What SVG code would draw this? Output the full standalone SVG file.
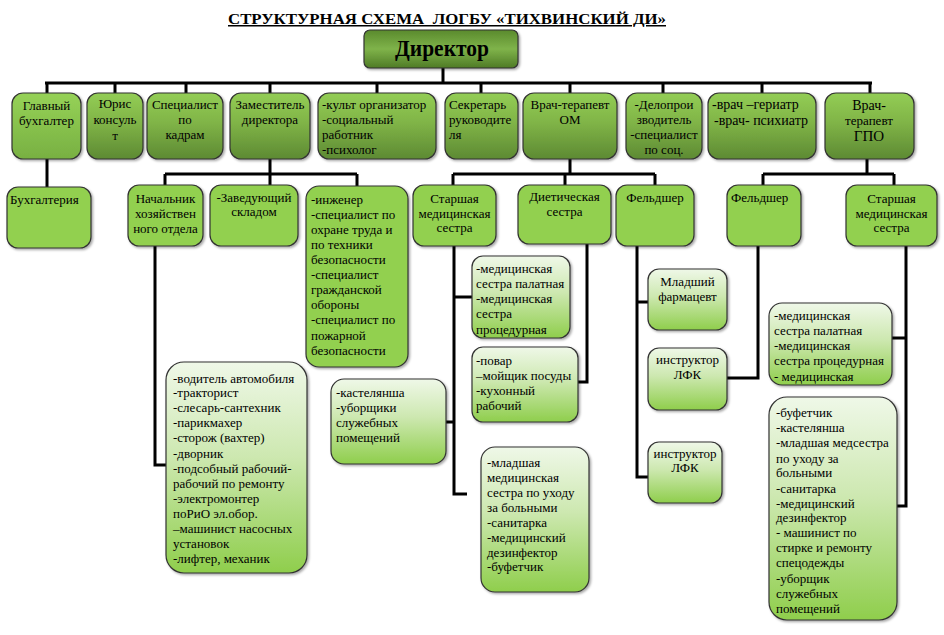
<svg xmlns="http://www.w3.org/2000/svg" width="944" height="635" viewBox="0 0 944 635">
<defs>
<linearGradient id="gTop" x1="0" y1="0" x2="0" y2="1">
<stop offset="0" stop-color="#93cd55"/><stop offset="0.45" stop-color="#80b447"/><stop offset="1" stop-color="#5d8a33"/>
</linearGradient>
<linearGradient id="gBuh" x1="0" y1="0" x2="0" y2="1">
<stop offset="0" stop-color="#96d257"/><stop offset="1" stop-color="#78b042"/>
</linearGradient>
<linearGradient id="gLight" x1="0" y1="0" x2="0" y2="1">
<stop offset="0" stop-color="#eff8e8"/><stop offset="0.45" stop-color="#cde8b0"/><stop offset="1" stop-color="#8fce4c"/>
</linearGradient>
<linearGradient id="gDir" x1="0" y1="0" x2="0" y2="1">
<stop offset="0" stop-color="#5a8a2d"/><stop offset="0.5" stop-color="#7fb34a"/><stop offset="1" stop-color="#4f7b26"/>
</linearGradient>
<filter id="sh" x="-10%" y="-10%" width="130%" height="130%">
<feDropShadow dx="1.5" dy="1.5" stdDeviation="1" flood-color="#000" flood-opacity="0.35"/>
</filter>
<clipPath id="clipOM"><rect x="472" y="256" width="98" height="82" rx="11"/></clipPath>
</defs>
<style>
.box{stroke:#333;stroke-width:1.2;filter:url(#sh)}
.top{fill:url(#gTop)}
.mid{fill:#92d050}
.lt{fill:url(#gLight)}
text{font-family:"Liberation Serif","DejaVu Serif","Noto Serif",serif;font-size:13px;fill:#000}
.c{text-anchor:middle}
.con{stroke:#000;stroke-width:3;fill:none}
</style>

<g id="title">
<text x="447" y="24" class="c" style="font-size:15px;font-weight:bold;text-decoration:underline" textLength="438" lengthAdjust="spacingAndGlyphs">СТРУКТУРНАЯ СХЕМА&#160; ЛОГБУ «ТИХВИНСКИЙ ДИ»</text>
</g>

<g id="connectors" class="con">
<path d="M443 68V83M45 83H872M47 83V93M115 83V93M186 83V93M270 83V93M377 83V93M481 83V93M570 83V93M663 83V93M762 83V93M870 83V93"/>
<path d="M47 159V187"/>
<path d="M270 159V185M165 174H357M165 174V185M357 174V186"/>
<path d="M570 159V174M453 174H655M453 174V185M565 174V185M655 174V185"/>
<path d="M867 159V174M763 174H894M763 174V185M894 174V185"/>
<path d="M155 246V465H166"/>
<path d="M454 246V494H467M446 422H454M454 297H472"/>
<path d="M587 244V382H578"/>
<path d="M637 246V477H648M637 302H648"/>
<path d="M758 246V378H727"/>
<path d="M906 246V506H897M892 338H906"/>
</g>

<g id="director">
<rect x="364" y="30" width="154" height="38" rx="6" fill="url(#gDir)" stroke="#333" stroke-width="1.2" filter="url(#sh)"/>
<text x="442" y="56" class="c" style="font-size:24px;font-weight:bold" textLength="94" lengthAdjust="spacingAndGlyphs">Директор</text>
</g>

<g id="glavbuh">
<rect class="box" x="12" y="93" width="69" height="66" rx="11" fill="url(#gBuh)"/>
<text class="c" x="46.5" y="110">Главный</text><text class="c" x="46.5" y="125">бухгалтер</text>
</g>
<g id="yurist">
<rect class="box top" x="87" y="93" width="56" height="66" rx="11"/>
<text class="c" x="115" y="108">Юрис</text><text class="c" x="115" y="124">консуль</text><text class="c" x="115" y="140">т</text>
</g>
<g id="kadry">
<rect class="box top" x="147" y="93" width="76" height="66" rx="11"/>
<text class="c" x="185" y="109">Специалист</text><text class="c" x="185" y="124">по</text><text class="c" x="185" y="139">кадрам</text>
</g>
<g id="zam">
<rect class="box top" x="230" y="93" width="80" height="66" rx="11"/>
<text class="c" x="270" y="109">Заместитель</text><text class="c" x="270" y="124">директора</text>
</g>
<g id="kult">
<rect class="box top" x="318" y="93" width="118" height="66" rx="11"/>
<text x="322" y="109">-культ организатор</text><text x="322" y="124">-социальный</text><text x="322" y="139">работник</text><text x="322" y="154">-психолог</text>
</g>
<g id="sekretar">
<rect class="box top" x="445" y="93" width="73" height="66" rx="11"/>
<text x="449" y="109">Секретарь</text><text x="449" y="124">руководите</text><text x="449" y="139">ля</text>
</g>
<g id="vrachOM">
<rect class="box top" x="523" y="93" width="94" height="66" rx="11"/>
<text class="c" x="570" y="109">Врач-терапевт</text><text class="c" x="570" y="124">ОМ</text>
</g>
<g id="delo">
<rect class="box top" x="626" y="93" width="76" height="66" rx="11"/>
<text class="c" x="664" y="109">-Делопрои</text><text class="c" x="664" y="124">зводитель</text><text class="c" x="664" y="139">-специалист</text><text class="c" x="664" y="154">по соц.</text>
</g>
<g id="geriatr">
<rect class="box top" x="708" y="93" width="108" height="66" rx="11"/>
<text x="712" y="109" style="font-size:14px">-врач –гериатр</text><text x="714" y="125" style="font-size:14px">-врач- психиатр</text>
</g>
<g id="vrachGPO">
<rect class="box top" x="825" y="93" width="89" height="66" rx="11"/>
<text class="c" x="869" y="110" style="font-size:14px">Врач-</text><text class="c" x="869" y="125">терапевт</text><text class="c" x="869" y="141" style="font-size:15px">ГПО</text>
</g>

<g id="buhgalteriya">
<rect class="box mid" x="7" y="187" width="84" height="61" rx="11"/>
<text x="10" y="204">Бухгалтерия</text>
</g>
<g id="nachalnik">
<rect class="box mid" x="128" y="185" width="75" height="61" rx="11"/>
<text class="c" x="165.5" y="203">Начальник</text><text class="c" x="165.5" y="218">хозяйствен</text><text class="c" x="165.5" y="233">ного отдела</text>
</g>
<g id="sklad">
<rect class="box mid" x="210" y="185" width="88" height="61" rx="11"/>
<text class="c" x="254" y="202">-Заведующий</text><text class="c" x="254" y="216">складом</text>
</g>
<g id="inzhener">
<rect class="box mid" x="306" y="186" width="102" height="181" rx="13"/>
<text x="311" y="204">-инженер</text><text x="311" y="219">-специалист по</text><text x="311" y="234">охране труда и</text><text x="311" y="249">по техники</text><text x="311" y="264">безопасности</text><text x="311" y="279">-специалист</text><text x="311" y="294">гражданской</text><text x="311" y="309">обороны</text><text x="311" y="324">-специалист по</text><text x="311" y="340">пожарной</text><text x="311" y="355">безопасности</text>
</g>
<g id="starshOM">
<rect class="box mid" x="413" y="185" width="83" height="61" rx="11"/>
<text class="c" x="454.5" y="203">Старшая</text><text class="c" x="454.5" y="218">медицинская</text><text class="c" x="454.5" y="232">сестра</text>
</g>
<g id="dieta">
<rect class="box mid" x="518" y="185" width="93" height="59" rx="11"/>
<text class="c" x="564.5" y="201">Диетическая</text><text class="c" x="564.5" y="216">сестра</text>
</g>
<g id="feldOM">
<rect class="box mid" x="616" y="185" width="78" height="61" rx="11"/>
<text class="c" x="655" y="202">Фельдшер</text>
</g>
<g id="feldGPO">
<rect class="box mid" x="727" y="185" width="74" height="61" rx="11"/>
<text x="731" y="202">Фельдшер</text>
</g>
<g id="starshGPO">
<rect class="box mid" x="846" y="185" width="91" height="61" rx="11"/>
<text class="c" x="891.5" y="203">Старшая</text><text class="c" x="891.5" y="218">медицинская</text><text class="c" x="891.5" y="232">сестра</text>
</g>

<g id="voditel">
<rect class="box lt" x="166" y="362" width="141" height="211" rx="18"/>
<text x="173" y="383">-водитель автомобиля</text><text x="173" y="397">-тракторист</text><text x="173" y="412">-слесарь-сантехник</text><text x="173" y="427">-парикмахер</text><text x="173" y="442">-сторож (вахтер)</text><text x="173" y="458">-дворник</text><text x="173" y="473">-подсобный рабочий-</text><text x="173" y="488">рабочий по ремонту</text><text x="173" y="503">-электромонтер</text><text x="173" y="518">поРиО эл.обор.</text><text x="173" y="533">–машинист насосных</text><text x="173" y="548">установок</text><text x="173" y="563">-лифтер, механик</text>
</g>
<g id="kastelyansha">
<rect class="box lt" x="331" y="379" width="115" height="85" rx="13"/>
<text x="336" y="397">-кастелянша</text><text x="336" y="412">-уборщики</text><text x="336" y="427">служебных</text><text x="336" y="442">помещений</text>
</g>
<g id="palatOM">
<rect class="box lt" x="472" y="256" width="98" height="82" rx="11"/>
<g clip-path="url(#clipOM)">
<text x="476" y="273">-медицинская</text><text x="476" y="288">сестра палатная</text><text x="476" y="303">-медицинская</text><text x="476" y="318">сестра</text><text x="476" y="334">процедурная</text>
</g>
</g>
<g id="povar">
<rect class="box lt" x="472" y="347" width="106" height="75" rx="11"/>
<text x="476" y="365">-повар</text><text x="476" y="380">–мойщик посуды</text><text x="476" y="395">-кухонный</text><text x="476" y="410">рабочий</text>
</g>
<g id="mladshaya">
<rect class="box lt" x="481" y="447" width="108" height="145" rx="14"/>
<text x="487" y="467">-младшая</text><text x="487" y="482">медицинская</text><text x="487" y="497">сестра по уходу</text><text x="487" y="512">за больными</text><text x="487" y="527">-санитарка</text><text x="487" y="542">-медицинский</text><text x="487" y="557">дезинфектор</text><text x="487" y="571">-буфетчик</text>
</g>
<g id="farmacevt">
<rect class="box lt" x="648" y="269" width="79" height="61" rx="11"/>
<text class="c" x="687.5" y="286">Младший</text><text class="c" x="687.5" y="301">фармацевт</text>
</g>
<g id="lfk1">
<rect class="box lt" x="648" y="348" width="79" height="62" rx="11"/>
<text class="c" x="687.5" y="364">инструктор</text><text class="c" x="687.5" y="379">ЛФК</text>
</g>
<g id="lfk2">
<rect class="box lt" x="648" y="442" width="74" height="61" rx="11"/>
<text class="c" x="685" y="458">инструктор</text><text class="c" x="685" y="472">ЛФК</text>
</g>
<g id="palatGPO">
<rect class="box lt" x="769" y="303" width="123" height="82" rx="13"/>
<text x="774" y="320">-медицинская</text><text x="774" y="335">сестра палатная</text><text x="774" y="350">-медицинская</text><text x="774" y="365">сестра процедурная</text><text x="774" y="381">- медицинская</text>
</g>
<g id="bufetchik">
<rect class="box lt" x="769" y="397" width="128" height="223" rx="18"/>
<text x="776" y="417">-буфетчик</text><text x="776" y="432">-кастелянша</text><text x="776" y="447">-младшая медсестра</text><text x="776" y="463">по уходу за</text><text x="776" y="477">больными</text><text x="776" y="493">-санитарка</text><text x="776" y="508">-медицинский</text><text x="776" y="522">дезинфектор</text><text x="776" y="537">- машинист по</text><text x="776" y="552">стирке и ремонту</text><text x="776" y="567">спецодежды</text><text x="776" y="583">-уборщик</text><text x="776" y="598">служебных</text><text x="776" y="613">помещений</text>
</g>
</svg>
